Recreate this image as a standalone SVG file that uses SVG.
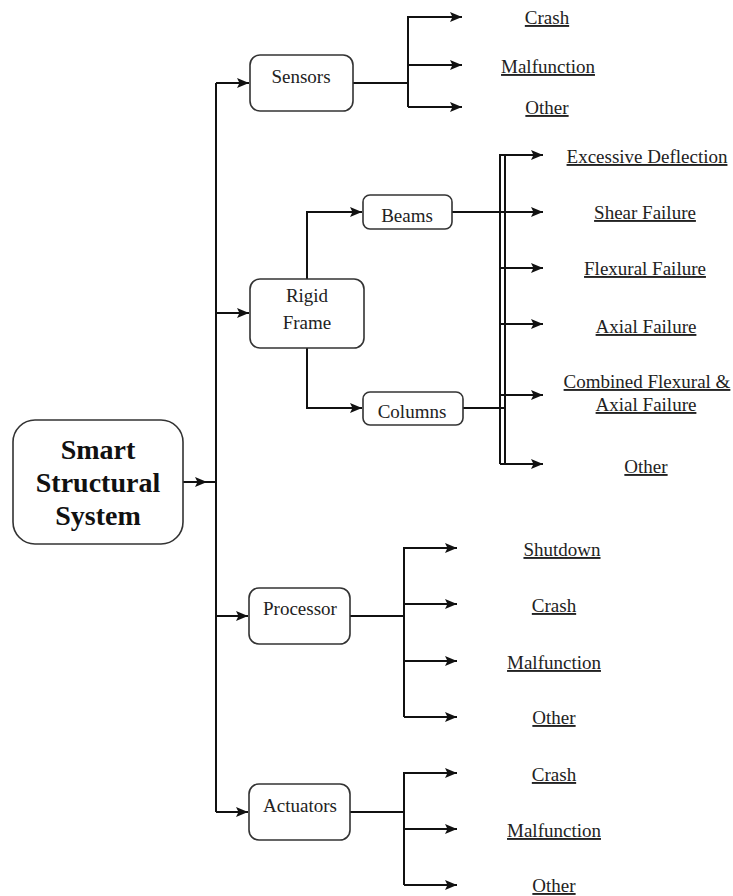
<svg xmlns="http://www.w3.org/2000/svg" width="733" height="896" viewBox="0 0 733 896">
<style>
.box{fill:#fff;stroke:#333;stroke-width:1.6}
.ln{fill:none;stroke:#111;stroke-width:2}
.t{font-family:"Liberation Serif","Times New Roman",serif;font-size:19px;fill:#222;text-anchor:middle}
.b{font-family:"Liberation Serif","Times New Roman",serif;font-size:28px;font-weight:bold;fill:#111;text-anchor:middle}
.u{text-decoration:underline}
</style>
<defs>
<marker id="ah" markerUnits="userSpaceOnUse" markerWidth="14" markerHeight="12" refX="12" refY="6" orient="auto">
<path d="M0,1 L12,6 L0,11 L2.5,6 Z" fill="#111"/>
</marker>
</defs>
<rect width="733" height="896" fill="#fff"/>
<g id="connectors">
<line class="ln" x1="183" y1="482" x2="216" y2="482"/>
<path d="M195,477 L207,482 L195,487 L197.5,482 Z" fill="#111"/>
<line class="ln" x1="216" y1="83" x2="216" y2="812"/>
<path class="ln" d="M216,83 H249" marker-end="url(#ah)"/>
<path class="ln" d="M216,313 H249" marker-end="url(#ah)"/>
<path class="ln" d="M216,616 H248" marker-end="url(#ah)"/>
<path class="ln" d="M216,812 H248" marker-end="url(#ah)"/>
<!-- sensors -->
<path class="ln" d="M353,83 H408"/>
<path class="ln" d="M408,107 V17 H462" marker-end="url(#ah)"/>
<path class="ln" d="M408,65 H462" marker-end="url(#ah)"/>
<path class="ln" d="M408,107 H462" marker-end="url(#ah)"/>
<!-- rigid frame -->
<path class="ln" d="M307,279 V212 H362" marker-end="url(#ah)"/>
<path class="ln" d="M307,348 V408 H362" marker-end="url(#ah)"/>
<path class="ln" d="M452,212 H543" marker-end="url(#ah)"/>
<path class="ln" d="M463,408 H505"/>
<path class="ln" d="M500,464 V155 H543" marker-end="url(#ah)"/>
<path class="ln" d="M505,155 V464"/>
<path class="ln" d="M500,464 H543" marker-end="url(#ah)"/>
<path class="ln" d="M500,268 H543" marker-end="url(#ah)"/>
<path class="ln" d="M500,324 H543" marker-end="url(#ah)"/>
<path class="ln" d="M500,395 H543" marker-end="url(#ah)"/>
<!-- processor -->
<path class="ln" d="M350,616 H404"/>
<path class="ln" d="M404,717 V548 H457" marker-end="url(#ah)"/>
<path class="ln" d="M404,604 H457" marker-end="url(#ah)"/>
<path class="ln" d="M404,661 H457" marker-end="url(#ah)"/>
<path class="ln" d="M404,717 H457" marker-end="url(#ah)"/>
<!-- actuators -->
<path class="ln" d="M350,812 H404"/>
<path class="ln" d="M404,885 V773 H457" marker-end="url(#ah)"/>
<path class="ln" d="M404,829 H457" marker-end="url(#ah)"/>
<path class="ln" d="M404,885 H457" marker-end="url(#ah)"/>
</g>
<g id="smart">
<rect class="box" x="13" y="420" width="170" height="124" rx="22"/>
<text class="b" x="98" y="459">Smart</text>
<text class="b" x="98" y="492">Structural</text>
<text class="b" x="98" y="525">System</text>
</g>
<g id="sensors">
<rect class="box" x="250" y="55" width="103" height="56" rx="10"/>
<text class="t" x="301" y="83">Sensors</text>
</g>
<g id="rigid">
<rect class="box" x="250" y="279" width="114" height="69" rx="10"/>
<text class="t" x="307" y="302">Rigid</text>
<text class="t" x="307" y="329">Frame</text>
</g>
<g id="beams">
<rect class="box" x="363" y="195" width="89" height="34" rx="7"/>
<text class="t" x="407" y="222">Beams</text>
</g>
<g id="columns">
<rect class="box" x="363" y="392" width="100" height="33" rx="7"/>
<text class="t" x="412" y="418">Columns</text>
</g>
<g id="processor">
<rect class="box" x="249" y="588" width="101" height="56" rx="10"/>
<text class="t" x="300" y="615">Processor</text>
</g>
<g id="actuators">
<rect class="box" x="249" y="784" width="101" height="56" rx="10"/>
<text class="t" x="300" y="812">Actuators</text>
</g>
<g id="leaves">
<text class="t u" x="547" y="24">Crash</text>
<text class="t u" x="548" y="73">Malfunction</text>
<text class="t u" x="547" y="114">Other</text>
<text class="t u" x="647" y="163">Excessive Deflection</text>
<text class="t u" x="645" y="219">Shear Failure</text>
<text class="t u" x="645" y="275">Flexural Failure</text>
<text class="t u" x="646" y="333">Axial Failure</text>
<text class="t u" x="647" y="388">Combined Flexural &amp;</text>
<text class="t u" x="646" y="411">Axial Failure</text>
<text class="t u" x="646" y="473">Other</text>
<text class="t u" x="562" y="556">Shutdown</text>
<text class="t u" x="554" y="612">Crash</text>
<text class="t u" x="554" y="669">Malfunction</text>
<text class="t u" x="554" y="724">Other</text>
<text class="t u" x="554" y="781">Crash</text>
<text class="t u" x="554" y="837">Malfunction</text>
<text class="t u" x="554" y="892">Other</text>
</g>
</svg>
